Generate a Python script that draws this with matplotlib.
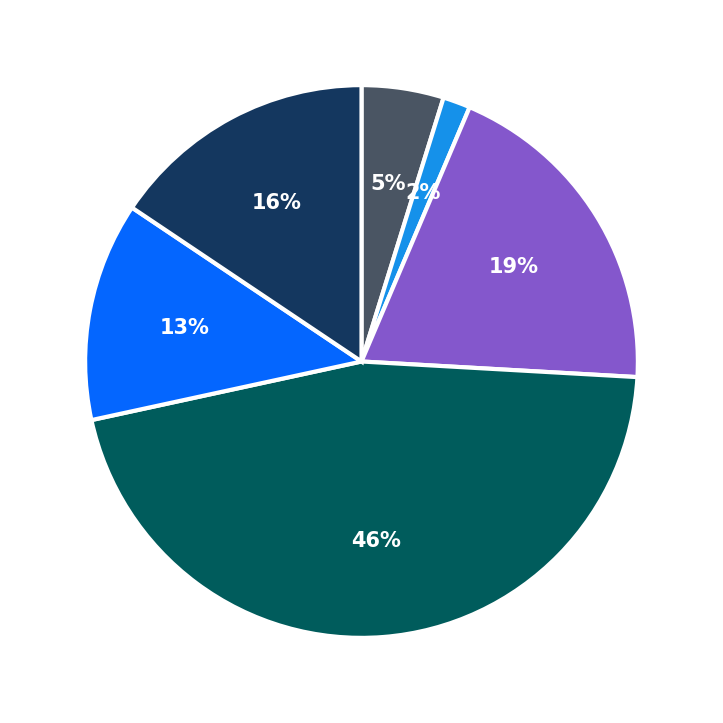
import matplotlib
matplotlib.use("Agg")
import matplotlib.pyplot as plt

values = [4.8, 1.6, 19.5, 45.7, 12.8, 15.6]
labels = ["5%", "2%", "19%", "46%", "13%", "16%"]
colors = ["#4a5563", "#1591ea", "#8457cc", "#005c5c", "#0466ff", "#14375f"]

fig = plt.figure(figsize=(7.23, 7.23), dpi=100)
ax = fig.add_axes([0, 0, 1, 1])
wedges, texts = ax.pie(values, colors=colors, startangle=90, counterclock=False,
                       wedgeprops=dict(edgecolor="white", linewidth=3))
for w, lab in zip(wedges, labels):
    import numpy as np
    ang = np.deg2rad((w.theta1 + w.theta2) / 2)
    ax.text(0.65 * np.cos(ang), 0.65 * np.sin(ang), lab, ha="center", va="center",
            color="white", fontsize=15, fontweight="bold")
ax.set_xlim(-1.308, 1.308)
ax.set_ylim(-1.308, 1.308)
ax.set_aspect("equal")
ax.axis("off")
fig.savefig("out.png", dpi=100)
